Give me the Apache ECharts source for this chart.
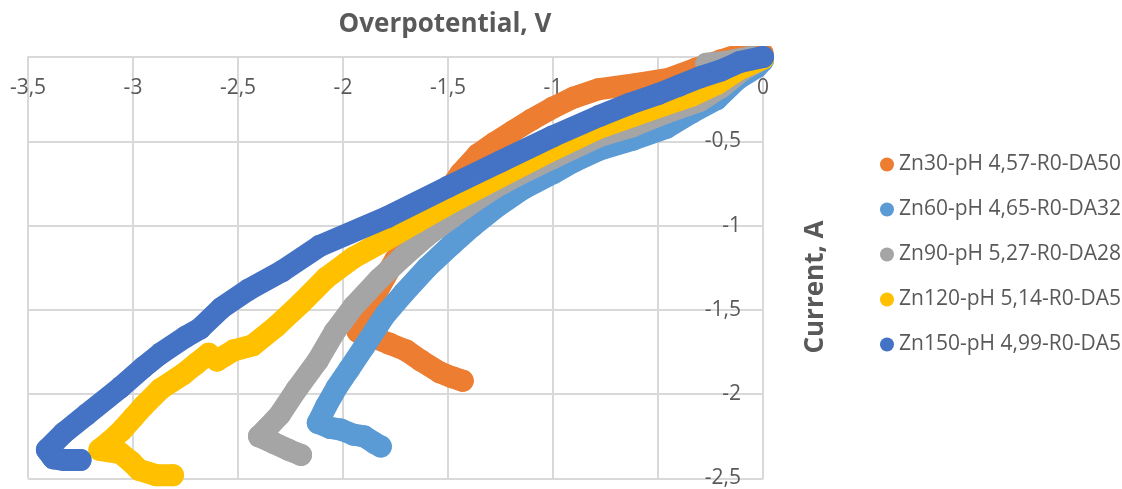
<!DOCTYPE html>
<html>
<head>
<meta charset="utf-8">
<script src="https://cdn.jsdelivr.net/npm/echarts@6/dist/echarts.min.js"></script>
<style>
  html, body { margin: 0; padding: 0; background: #fff; }
  #chart { width: 1122px; height: 489px; }
</style>
</head>
<body>
<div id="chart"></div>
<script>
// Polarisation sweeps: [overpotential (V), current (A)]
const seriesNames = [
  'Zn30-pH 4,57-R0-DA50',
  'Zn60-pH 4,65-R0-DA32',
  'Zn90-pH 5,27-R0-DA28',
  'Zn120-pH 5,14-R0-DA5',
  'Zn150-pH 4,99-R0-DA5'
];
const seriesColors = ['#ED7D31', '#5B9BD5', '#A5A5A5', '#FFC000', '#4472C4'];

const zn30 = [
  [0, 0.02], [-0.1, 0.02], [-0.2, -0.02], [-0.32, -0.07], [-0.45, -0.13], [-0.6, -0.16],
  [-0.78, -0.19], [-0.9, -0.24], [-1.0, -0.3], [-1.1, -0.37], [-1.19, -0.44],
  [-1.28, -0.51], [-1.36, -0.58], [-1.44, -0.69], [-1.52, -0.83], [-1.58, -0.95],
  [-1.66, -1.07], [-1.75, -1.2], [-1.82, -1.35], [-1.87, -1.47], [-1.91, -1.57],
  [-1.93, -1.63], [-1.86, -1.66], [-1.78, -1.7], [-1.7, -1.74], [-1.63, -1.8],
  [-1.54, -1.87], [-1.48, -1.9], [-1.43, -1.92]
];
const zn60 = [
  [0, -0.02], [-0.03, -0.06], [-0.12, -0.13], [-0.22, -0.25], [-0.34, -0.33], [-0.46, -0.42],
  [-0.62, -0.49], [-0.78, -0.55], [-0.9, -0.62], [-1.0, -0.69], [-1.14, -0.78],
  [-1.27, -0.89], [-1.38, -1.0], [-1.48, -1.11], [-1.6, -1.25], [-1.71, -1.4],
  [-1.8, -1.53], [-1.9, -1.72], [-1.97, -1.85], [-2.03, -1.96], [-2.08, -2.07],
  [-2.12, -2.17], [-2.06, -2.2], [-2.01, -2.21], [-1.95, -2.24], [-1.9, -2.25],
  [-1.85, -2.29], [-1.82, -2.31]
];
const zn90 = [
  [-0.27, -0.04], [-0.18, -0.03], [-0.06, 0], [0, -0.01], [-0.1, -0.08], [-0.2, -0.18],
  [-0.3, -0.26], [-0.46, -0.33], [-0.62, -0.41], [-0.78, -0.47], [-1.0, -0.6],
  [-1.15, -0.69], [-1.27, -0.77], [-1.38, -0.86], [-1.48, -0.95], [-1.6, -1.06],
  [-1.71, -1.18], [-1.83, -1.32], [-1.95, -1.48], [-2.04, -1.63], [-2.12, -1.8],
  [-2.22, -1.97], [-2.3, -2.12], [-2.36, -2.2], [-2.4, -2.25], [-2.33, -2.29],
  [-2.26, -2.33], [-2.2, -2.36]
];
const zn120 = [
  [0, -0.01], [-0.11, -0.07], [-0.22, -0.16], [-0.34, -0.23], [-0.46, -0.28], [-0.62, -0.35],
  [-0.78, -0.42], [-1.0, -0.55], [-1.25, -0.71], [-1.48, -0.86], [-1.65, -0.98],
  [-1.79, -1.08], [-1.95, -1.19], [-2.08, -1.31], [-2.2, -1.46], [-2.32, -1.6],
  [-2.43, -1.71], [-2.52, -1.74], [-2.6, -1.8], [-2.64, -1.76], [-2.7, -1.82],
  [-2.76, -1.88], [-2.87, -1.97], [-2.95, -2.07], [-3.0, -2.14], [-3.05, -2.21],
  [-3.11, -2.28], [-3.16, -2.33], [-3.06, -2.35], [-3.01, -2.4], [-2.97, -2.45],
  [-2.89, -2.48], [-2.81, -2.48]
];
const zn150 = [
  [0, 0], [-0.11, -0.03], [-0.2, -0.08], [-0.3, -0.12], [-0.4, -0.17], [-0.5, -0.22],
  [-0.64, -0.28], [-0.78, -0.35], [-1.0, -0.47], [-1.25, -0.62], [-1.5, -0.77],
  [-1.79, -0.95], [-2.11, -1.12], [-2.29, -1.27], [-2.45, -1.38], [-2.58, -1.49],
  [-2.68, -1.61], [-2.75, -1.66], [-2.87, -1.76], [-2.95, -1.84], [-3.06, -1.96],
  [-3.22, -2.12], [-3.33, -2.23], [-3.41, -2.33], [-3.38, -2.38], [-3.33, -2.39],
  [-3.25, -2.39]
];
const seriesData = [zn30, zn60, zn90, zn120, zn150];

// Axis scales and titles
const xMin = -3.5, xMax = 0, xStep = 0.5;
const yMin = -2.5, yMax = 0, yStep = 0.5;
const xTitle = 'Overpotential, V';
const yTitle = 'Current, A';

const textColor = '#595959';
const gridColor = '#d9d9d9';
const fontFamily = '"Open Sans", "Liberation Sans", sans-serif';
const commaDecimal = v => String(Math.round(v * 100) / 100).replace('.', ',');
const bandWidth = 22;

const chart = echarts.init(document.getElementById('chart'), null, { renderer: 'canvas' });

chart.setOption({
  animation: false,
  backgroundColor: '#ffffff',
  textStyle: { fontFamily: fontFamily },
  title: {
    text: xTitle,
    left: 440,
    top: 7,
    textAlign: 'center',
    textStyle: { fontFamily: fontFamily, fontSize: 26, fontWeight: 'bold', color: textColor }
  },
  graphic: [{
    type: 'text',
    x: 816,
    y: 287,
    rotation: Math.PI / 2,
    style: {
      text: yTitle,
      font: 'bold 26px ' + fontFamily,
      fill: textColor,
      align: 'center',
      verticalAlign: 'middle'
    }
  }],
  legend: {
    orient: 'vertical',
    left: 875,
    top: 149,
    icon: 'circle',
    itemWidth: 14,
    itemHeight: 14,
    itemGap: 24,
    data: seriesNames,
    textStyle: { fontFamily: fontFamily, fontSize: 21, color: textColor }
  },
  grid: { left: 28, right: 359, top: 57, bottom: 7 },
  xAxis: {
    type: 'value',
    position: 'top',
    min: xMin, max: xMax, interval: xStep,
    axisLine: { show: true, onZero: false, lineStyle: { color: gridColor, width: 2 } },
    axisTick: { show: false },
    axisLabel: { inside: true, margin: 21, fontSize: 21, color: textColor, fontFamily: fontFamily, formatter: commaDecimal },
    splitLine: { show: true, lineStyle: { color: gridColor, width: 2 } }
  },
  yAxis: {
    type: 'value',
    position: 'right',
    min: yMin, max: yMax, interval: yStep,
    axisLine: { show: true, onZero: false, lineStyle: { color: gridColor, width: 2 } },
    axisTick: { show: false },
    axisLabel: { inside: true, margin: 22, fontSize: 21, color: textColor, fontFamily: fontFamily, formatter: commaDecimal },
    splitLine: { show: true, lineStyle: { color: gridColor, width: 2 } }
  },
  series: seriesNames.map((name, i) => ({
    name: name,
    type: 'line',
    data: seriesData[i],
    color: seriesColors[i],
    symbol: 'circle',
    symbolSize: bandWidth,
    showSymbol: true,
    showAllSymbol: true,
    smooth: false,
    lineStyle: { width: bandWidth, color: seriesColors[i], cap: 'round', join: 'round' },
    itemStyle: { color: seriesColors[i], borderWidth: 0 },
    emphasis: { disabled: true },
    z: 2 + i
  }))
});
</script>
</body>
</html>
